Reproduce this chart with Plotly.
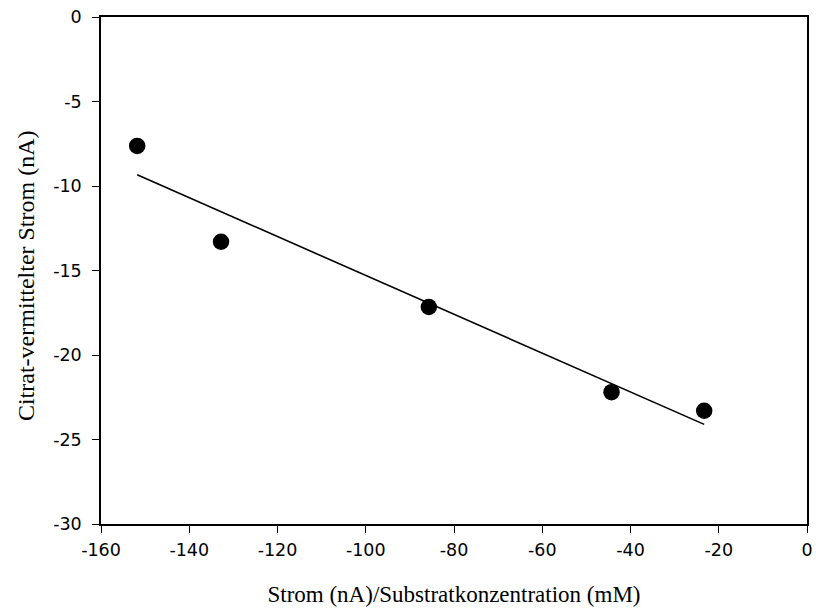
import numpy as np
import plotly.graph_objects as go

# Measured points
strom_pro_konz = [-151.8, -132.8, -85.7, -44.3, -23.3]
citrat_strom = [-7.63, -13.3, -17.16, -22.2, -23.3]

x_ticks = [-160, -140, -120, -100, -80, -60, -40, -20, 0]
y_ticks = [0, -5, -10, -15, -20, -25, -30]

# Linear regression line spanning the data range
slope, intercept = np.polyfit(strom_pro_konz, citrat_strom, 1)
fit_x = np.array([min(strom_pro_konz), max(strom_pro_konz)])
fit_y = slope * fit_x + intercept

fig = go.Figure()
fig.add_trace(go.Scatter(
    x=fit_x, y=fit_y, mode="lines",
    line=dict(color="black", width=1.6), showlegend=False, hoverinfo="skip",
))
fig.add_trace(go.Scatter(
    x=strom_pro_konz, y=citrat_strom, mode="markers",
    marker=dict(color="black", size=16.5), showlegend=False,
))

axis_common = dict(
    showgrid=False, zeroline=False, showline=True, linecolor="black", linewidth=1.5,
    mirror=True, ticks="outside", ticklen=7, tickwidth=1.3, tickcolor="black",
    tickfont=dict(family="DejaVu Sans", size=17.5, color="black"),
    automargin=False,
)
serif = "Liberation Serif, Times New Roman"

fig.update_layout(
    width=816, height=614,
    margin=dict(l=101, r=9, t=17, b=90),
    paper_bgcolor="white", plot_bgcolor="white",
    xaxis=dict(
        range=[-160, 0], tickvals=x_ticks, ticktext=[str(v) for v in x_ticks],
        ticklabelstandoff=2,
        title=dict(text="Strom (nA)/Substratkonzentration (mM)",
                   font=dict(family=serif, size=23, color="black"), standoff=27),
        **axis_common,
    ),
    yaxis=dict(
        range=[-30, 0], tickvals=y_ticks, ticktext=[str(v) for v in y_ticks],
        ticklabelstandoff=7,
        **axis_common,
    ),
    annotations=[dict(
        text="Citrat-vermittelter Strom (nA)", textangle=-90,
        xref="paper", yref="paper", x=0, y=0.489, xshift=-75,
        xanchor="center", yanchor="middle", showarrow=False,
        font=dict(family=serif, size=24, color="black"),
    )],
)

fig.write_html("out.html")
